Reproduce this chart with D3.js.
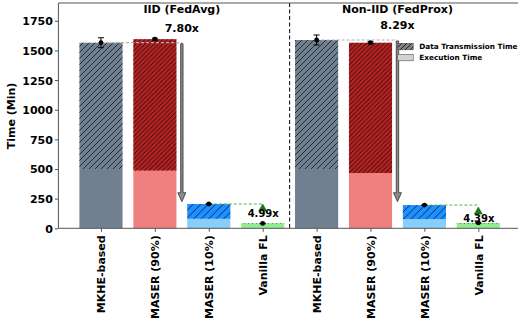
<!DOCTYPE html>
<html><head><meta charset="utf-8">
<script src="https://cdn.jsdelivr.net/npm/d3@7"></script>
<style>body{margin:0;background:#fff;} text{font-family:"DejaVu Sans",sans-serif;font-weight:bold;}</style>
</head><body>
<script>
const categories = ["MKHE-based","MASER (90%)","MASER (10%)","Vanilla FL","MKHE-based","MASER (90%)","MASER (10%)","Vanilla FL"];
const groups = ["IID (FedAvg)","Non-IID (FedProx)"];
const execTime = [500, 486, 80, 36, 500, 466, 78, 40];
const transTime = [1065, 1109, 125, 5, 1088, 1099, 118, 5];
const errors = [42, 8, 3, 2, 42, 8, 3, 2];
const speedups = ["7.80x","8.29x"];
const flSpeedups = ["4.99x","4.39x"];
const yTicks = [0,250,500,750,1000,1250,1500,1750];
const legendLabels = ["Data Transmission Time","Execution Time"];

const execColors = ["#708090","#f08080","#87cefa","#90ee90"];
const transColors = ["#708090","#b22222","#1e90ff","#5cd65c"];
const hatchSpacing = [6, 4.5, 7.5, 4];

const W=518,H=324;
const svg=d3.select("body").append("svg").attr("width",W).attr("height",H);
const x=d3.scaleLinear().domain([-0.79,7.79]).range([58.4,520.9]);
const y=d3.scaleLinear().domain([0,1900]).range([228.3,3]);
const bw = x(0.8)-x(0);

const defs=svg.append("defs");
function hatch(id,s,color){
  const p=defs.append("pattern").attr("id",id).attr("patternUnits","userSpaceOnUse").attr("width",s).attr("height",s);
  p.append("path").attr("d",`M0,${s} L${s},0 M${-s/2},${s/2} L${s/2},${-s/2} M${s/2},${s*1.5} L${s*1.5},${s/2}`)
   .attr("stroke",color).attr("stroke-width",0.9).attr("fill","none");
}
transColors.forEach((c,i)=>hatch("h"+i,hatchSpacing[i],"rgba(0,0,0,0.75)"));
hatch("hl",5,"rgba(0,0,0,0.8)");

const g=svg.append("g");
// bars
categories.forEach((c,i)=>{
  const ci=i%4;
  const e=execTime[i], t=transTime[i];
  g.append("rect").attr("x",x(i)-bw/2).attr("width",bw).attr("y",y(e)).attr("height",y(0)-y(e)).attr("fill",execColors[ci]);
  g.append("rect").attr("x",x(i)-bw/2).attr("width",bw).attr("y",y(e+t)).attr("height",y(e)-y(e+t)).attr("fill",transColors[ci]);
  g.append("rect").attr("x",x(i)-bw/2).attr("width",bw).attr("y",y(e+t)).attr("height",y(e)-y(e+t)).attr("fill",`url(#h${ci})`);
});

// dashed guide lines and arrows
[0,1].forEach(k=>{
  const b=k*4;
  const top=execTime[b]+transTime[b];
  const ax=x(b+1.5);
  g.append("line").attr("x1",x(b)).attr("x2",ax).attr("y1",y(top)).attr("y2",y(top))
    .attr("stroke","#b0b0b0").attr("stroke-width",1.2).attr("stroke-dasharray","3,2");
  const tipY=201.7, headH=9, shaftW=2.4, headW=8;
  const y0=y(top)+1;
  g.append("path").attr("d",`M${ax-shaftW/2},${y0} L${ax+shaftW/2},${y0} L${ax+shaftW/2},${tipY-headH} L${ax+headW/2},${tipY-headH} L${ax},${tipY} L${ax-headW/2},${tipY-headH} L${ax-shaftW/2},${tipY-headH} Z`)
    .attr("fill","#8a8a8a").attr("stroke","#333").attr("stroke-width",0.8);
  g.append("text").attr("x",ax).attr("y",k===0?32:29).attr("text-anchor","middle").attr("font-size",11).text(speedups[k]);
  g.append("text").attr("x",ax).attr("y",13).attr("text-anchor","middle").attr("font-size",11).text(groups[k]);
  // green dashed line to vanilla
  const m=b+2, v=b+3;
  const mt=execTime[m]+transTime[m];
  g.append("line").attr("x1",x(m)).attr("x2",x(v)).attr("y1",y(mt)).attr("y2",y(mt))
    .attr("stroke","#5cad5c").attr("stroke-width",1).attr("stroke-dasharray","3,2");
  const ty = y(mt)+ (k===0?0:2);
  g.append("path").attr("d",`M${x(v)},${ty} L${x(v)+4},${ty+7} L${x(v)-4},${ty+7} Z`).attr("fill","#1a7a1a").attr("stroke","#0a5a0a").attr("stroke-width",0.5);
  g.append("text").attr("x",x(v)+0.5).attr("y",k===0?217:221.5).attr("text-anchor","middle").attr("font-size",10).text(flSpeedups[k]);
});

// error bars
categories.forEach((c,i)=>{
  const t=execTime[i]+transTime[i], er=errors[i];
  g.append("line").attr("x1",x(i)).attr("x2",x(i)).attr("y1",y(t+er)).attr("y2",y(t-er)).attr("stroke","#000").attr("stroke-width",1);
  [t+er,t-er].forEach(v=>g.append("line").attr("x1",x(i)-3).attr("x2",x(i)+3).attr("y1",y(v)).attr("y2",y(v)).attr("stroke","#000").attr("stroke-width",1));
  g.append("circle").attr("cx",x(i)).attr("cy",y(t)).attr("r",2.4).attr("fill","#000");
});

// separator
g.append("line").attr("x1",x(3.5)).attr("x2",x(3.5)).attr("y1",3).attr("y2",228.3).attr("stroke","#000").attr("stroke-width",1).attr("stroke-dasharray","4,2.5");

// legend
const lx=397.7;
[0,1].forEach(k=>{
  const ly=43.3+k*11;
  g.append("rect").attr("x",lx).attr("y",ly).attr("width",15.5).attr("height",6.5).attr("fill",k===0?"#808080":"#d3d3d3").attr("stroke","#555").attr("stroke-width",0.6);
  if(k===0) g.append("rect").attr("x",lx).attr("y",ly).attr("width",15.5).attr("height",6.5).attr("fill","url(#hl)");
  g.append("text").attr("x",419.3).attr("y",ly+6).attr("font-size",7.3).text(legendLabels[k]);
});

// axes
const yAxis=d3.axisLeft(y).tickValues(yTicks).tickSize(3.5).tickPadding(2).tickFormat(d3.format("d"));
const ya=svg.append("g").attr("transform","translate(58.4,0)").call(yAxis);
ya.select(".domain").remove();
ya.selectAll("line").attr("stroke","#555");
ya.selectAll("text").attr("font-size",11).attr("fill","#000").attr("dy","0.36em");

const xa=svg.append("g").attr("transform","translate(0,228.3)").call(d3.axisBottom(x).tickValues(d3.range(8)).tickSize(3.5).tickFormat(i=>categories[i]));
xa.select(".domain").remove();
xa.selectAll("line").attr("stroke","#555");
xa.selectAll("text").attr("font-size",11).attr("fill","#000")
  .attr("transform","rotate(-90)").attr("text-anchor","end").attr("x",-7).attr("y",0).attr("dy","0.36em");

// spines
svg.append("line").attr("x1",58.4).attr("x2",58.4).attr("y1",3).attr("y2",228.3).attr("stroke","#555");
svg.append("line").attr("x1",58.4).attr("x2",W).attr("y1",228.3).attr("y2",228.3).attr("stroke","#555");
svg.append("line").attr("x1",58.4).attr("x2",W).attr("y1",3).attr("y2",3).attr("stroke","#555");

svg.append("text").attr("transform","translate(15,116) rotate(-90)").attr("text-anchor","middle").attr("font-size",11).text("Time (Min)");
</script>
</body></html>
